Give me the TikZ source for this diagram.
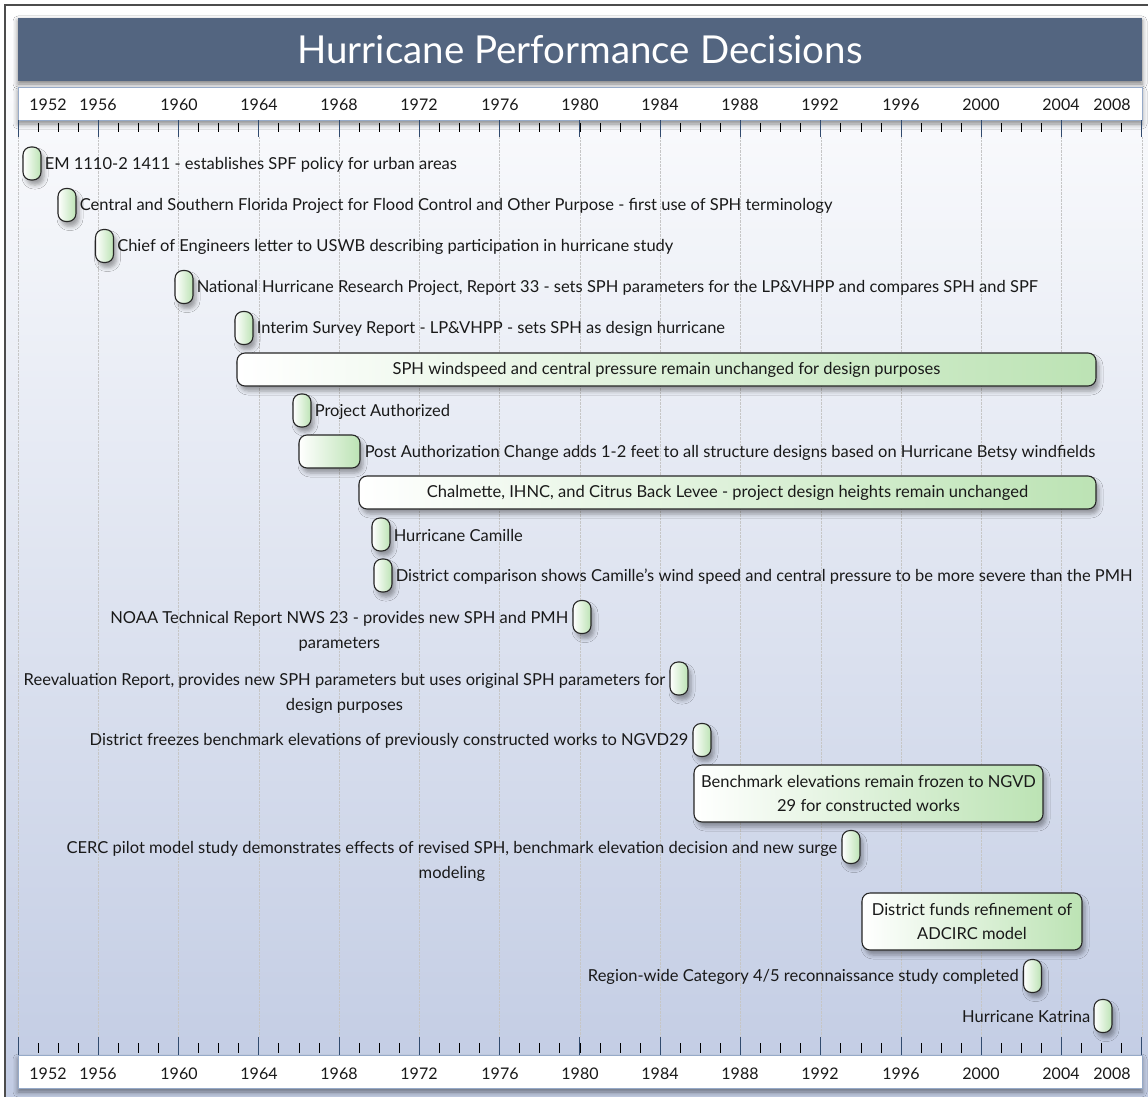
\documentclass[tikz,border=0pt]{standalone}
\usepackage{fontspec}
\setmainfont{Lato}
\usetikzlibrary{shadows.blur}

\definecolor{titleblue}{RGB}{83,101,128}
\definecolor{bandedge}{RGB}{150,170,200}
\definecolor{pillgreen}{RGB}{188,227,180}
\definecolor{bgbottom}{RGB}{193,203,227}
\definecolor{majtick}{RGB}{50,75,110}

\tikzset{
  pill/.style={draw=black!85, line width=1.1pt, rounded corners=8pt,
    left color=white, right color=pillgreen, inner sep=0pt,
    minimum width=18pt, minimum height=33pt,
    blur shadow={shadow xshift=3pt, shadow yshift=-5pt,
      shadow blur radius=4pt, shadow opacity=35}},
  lbl/.style={inner sep=0pt, font=\fontsize{16.5}{25}\selectfont, text=black!90},
  yr/.style={inner sep=0pt, font=\fontsize{16}{16}\selectfont, text=black!90},
  band/.style={fill=white, draw=bandedge, line width=0.8pt,
    minimum width=1124pt, minimum height=33pt, inner sep=0pt,
    blur shadow={shadow xshift=0pt, shadow yshift=-4pt,
      shadow blur radius=5pt, shadow opacity=45}},
}

\begin{document}
\begin{tikzpicture}[x=1pt, y=-1pt]
\useasboundingbox (0,0) rectangle (1148,1097);
%--------------- frame ----------------------
\fill [top color=white, bottom color=bgbottom] (5,5) rectangle (1160,1110);
\draw [black!70, line width=1.5pt] (5,1110) -- (5,5) -- (1160,5);

%--------------- grid ----------------------
\foreach \i in {0,4,...,56}
  \draw [gray!45, densely dotted] (18+\i*20.07,137) -- (18+\i*20.07,1037);

%--------------- title ----------------------
\node [fill=titleblue, minimum width=1124pt, minimum height=63pt, inner sep=0pt,
  text=white, font=\fontsize{38.5}{38.5}\selectfont,
  blur shadow={shadow xshift=0pt, shadow yshift=-3pt, shadow blur radius=5pt, shadow opacity=50}]
  (title) at (580,49.5) {Hurricane Performance Decisions};

%--------------- axes ----------------------
\node [band] (topaxis) at (580,103.5) {};
\node [band] (botaxis) at (580,1071.5) {};

\foreach \i in {1,...,55}{
  \draw [black, line width=0.9pt] (18+\i*20.07,123) -- ++(0,9);
  \draw [black, line width=0.9pt] (18+\i*20.07,1043) -- ++(0,10);
}
\foreach \i in {0,4,...,56}{
  \draw [majtick, line width=1pt] (18+\i*20.07,120.5) -- ++(0,17);
  \draw [majtick, line width=1pt] (18+\i*20.07,1037) -- ++(0,17.5);
}

\foreach \y/\x in {1952/48,1956/98,1960/179,1964/259,1968/339,1972/419,
  1976/500,1980/580,1984/660,1988/740,1992/820,1996/901,2000/981,
  2004/1061,2008/1112}{
  \node [yr] (top\y) at (\x,104.5) {\y};
  \node [yr] (bot\y) at (\x,1073.5) {\y};
}

%--------------- 1952 - 1965 ----------------------
\node [pill] (ev1) at (32,163.5) {};
\node [pill] (ev2) at (67,205) {};
\node [pill] (ev3) at (104.5,246) {};
\node [pill] (ev4) at (184,287) {};
\node [pill] (ev5) at (244,328) {};

\node [lbl, anchor=west] (tx1) at ([xshift=3pt,yshift=-1pt]ev1.east) {EM 1110-2 1411 - establishes SPF policy for urban areas};
\node [lbl, anchor=west] (tx2) at ([xshift=3pt,yshift=-1pt]ev2.east) {Central and Southern Florida Project for Flood Control and Other Purpose - first use of SPH terminology};
\node [lbl, anchor=west] (tx3) at ([xshift=3pt,yshift=-1pt]ev3.east) {Chief of Engineers letter to USWB describing participation in hurricane study};
\node [lbl, anchor=west] (tx4) at ([xshift=3pt,yshift=-1pt]ev4.east) {National Hurricane Research Project, Report 33 - sets SPH parameters for the LP\&VHPP and compares SPH and SPF};
\node [lbl, anchor=west] (tx5) at ([xshift=3pt,yshift=-1pt]ev5.east) {Interim Survey Report - LP\&VHPP - sets SPH as design hurricane};

%--------------- 1964 - 1970 ----------------------
\node [pill, minimum width=859pt, font=\fontsize{16.5}{25}\selectfont, text=black!90]
  (ev6) at (666.5,369.5) {SPH windspeed and central pressure remain unchanged for design purposes};
\node [pill] (ev7) at (302,410.5) {};
\node [pill, minimum width=61pt] (ev8) at (329.5,451.5) {};
\node [pill, minimum width=737pt, font=\fontsize{16.5}{25}\selectfont, text=black!90]
  (ev9) at (727.5,492.5) {Chalmette, IHNC, and Citrus Back Levee - project design heights remain unchanged};
\node [pill] (ev10) at (381,534.5) {};
\node [pill] (ev11) at (383,575.5) {};

\node [lbl, anchor=west] (tx7) at ([xshift=3pt,yshift=-1pt]ev7.east) {Project Authorized};
\node [lbl, anchor=west] (tx8) at ([xshift=4pt,yshift=-1pt]ev8.east) {Post Authorization Change adds 1-2 feet to all structure designs based on Hurricane Betsy windfields};
\node [lbl, anchor=west] (tx10) at ([xshift=3pt,yshift=-1pt]ev10.east) {Hurricane Camille};
\node [lbl, anchor=west] (tx11) at ([xshift=3pt,yshift=-1pt]ev11.east) {District comparison shows Camille's wind speed and central pressure to be more severe than the PMH};

%--------------- 1980 - 2008 ----------------------
\node [pill] (ev12) at (582,617) {};
\node [pill] (ev13) at (679,678.5) {};
\node [pill] (ev14) at (702,740) {};
\node [pill, minimum width=349pt, minimum height=57pt, align=center,
  font=\fontsize{16.5}{24}\selectfont, text=black!90]
  (ev15) at (868.5,793.5) {Benchmark elevations remain frozen to NGVD\\29 for constructed works};
\node [pill] (ev16) at (851,847) {};
\node [pill, minimum width=220pt, minimum height=57pt, align=center,
  font=\fontsize{16.5}{24}\selectfont, text=black!90]
  (ev17) at (972,921.5) {District funds refinement of\\ADCIRC model};
\node [pill] (ev18) at (1032.5,976) {};
\node [pill] (ev19) at (1103,1016) {};

\node [lbl, anchor=north east, align=center] (tx12) at ([xshift=-4pt,yshift=5.5pt]ev12.west)
  {NOAA Technical Report NWS 23 - provides new SPH and PMH\\parameters};
\node [lbl, anchor=north east, align=center] (tx13) at ([xshift=-4pt,yshift=5.5pt]ev13.west)
  {Reevaluation Report, provides new SPH parameters but uses original SPH parameters for\\design purposes};
\node [lbl, anchor=east] (tx14) at ([xshift=-4pt,yshift=-1pt]ev14.west) {District freezes benchmark elevations of previously constructed works to NGVD29};
\node [lbl, anchor=north east, align=center] (tx16) at ([xshift=-4pt,yshift=5.5pt]ev16.west)
  {CERC pilot model study demonstrates effects of revised SPH, benchmark elevation decision and new surge\\modeling};
\node [lbl, anchor=east] (tx18) at ([xshift=-4pt,yshift=-1pt]ev18.west) {Region-wide Category 4/5 reconnaissance study completed};
\node [lbl, anchor=east] (tx19) at ([xshift=-3pt,yshift=-1pt]ev19.west) {Hurricane Katrina};

\end{tikzpicture}
\end{document}
